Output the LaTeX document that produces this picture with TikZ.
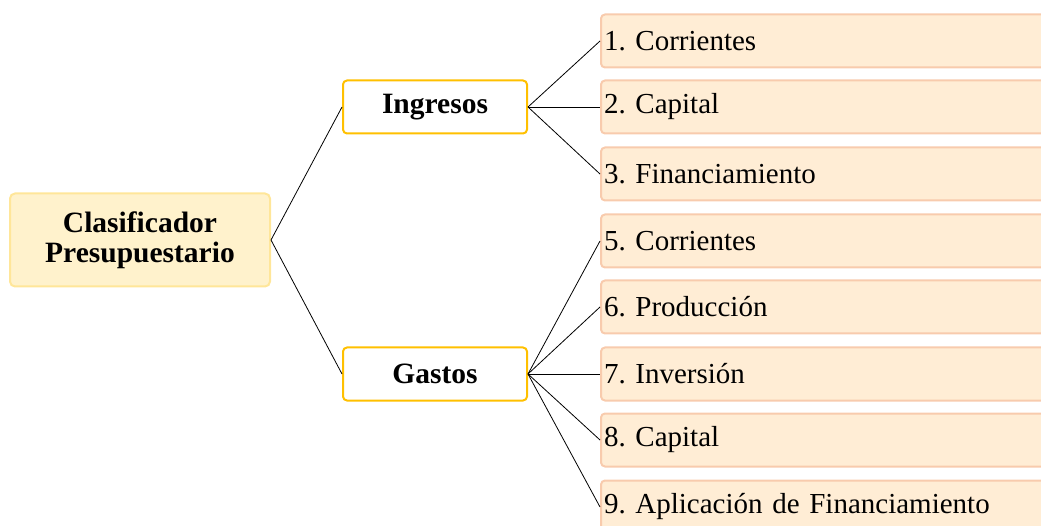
\documentclass[tikz,border=0pt]{standalone}
\usepackage{fontspec}
\setmainfont{Liberation Serif}
\frenchspacing
\definecolor{rootfill}{HTML}{FFF2CC}
\definecolor{rootline}{HTML}{FFE699}
\definecolor{midline}{HTML}{FFC000}
\definecolor{leaffill}{HTML}{FFEDD5}
\definecolor{leafline}{HTML}{F8CBAD}
\tikzset{
  rootbox/.style={draw=rootline, fill=rootfill, line width=2pt, rounded corners=5pt,
    minimum width=260pt, minimum height=93pt, align=center,
    font=\fontsize{29.5}{30}\selectfont\bfseries},
  midbox/.style={draw=midline, fill=white, line width=2pt, rounded corners=4pt,
    minimum width=184pt, minimum height=53pt, font=\fontsize{29.5}{30}\selectfont\bfseries},
  leafbox/.style={draw=leafline, fill=leaffill, line width=2pt, rounded corners=4pt,
    anchor=west, text width=454pt, inner xsep=3pt, minimum height=53pt, align=left,
    font=\fontsize{29}{30}\selectfont},
  link/.style={line width=0.8pt, black}
}
\begin{document}
\begin{tikzpicture}[x=1pt, y=-1pt]
    \clip (0,0) rectangle (1041,526);

    \node[rootbox] (root) at (140,240) {Clasificador\\Presupuestario};
    \node[midbox] (ing) at (435,107) {Ingresos};
    \node[midbox] (gas) at (435,374) {Gastos};

    \node[leafbox] (i1) at (600,41) {1. Corrientes};
    \node[leafbox] (i2) at (600,107) {2. Capital};
    \node[leafbox] (i3) at (600,174) {3. Financiamiento};

    \node[leafbox] (g5) at (600,241) {5. Corrientes};
    \node[leafbox] (g6) at (600,307) {6. Producción};
    \node[leafbox] (g7) at (600,374) {7. Inversión};
    \node[leafbox] (g8) at (600,440) {8. Capital};
    \node[leafbox] (g9) at (600,507) {9. Aplicación de Financiamiento};

    \draw[link] (root.east)--(ing.west);
    \draw[link] (root.east)--(gas.west);

    \foreach \n in {i1,i2,i3}
      \draw[link] (ing.east)--(\n.west);
    \foreach \n in {g5,g6,g7,g8,g9}
      \draw[link] (gas.east)--(\n.west);
  \end{tikzpicture}
\end{document}
